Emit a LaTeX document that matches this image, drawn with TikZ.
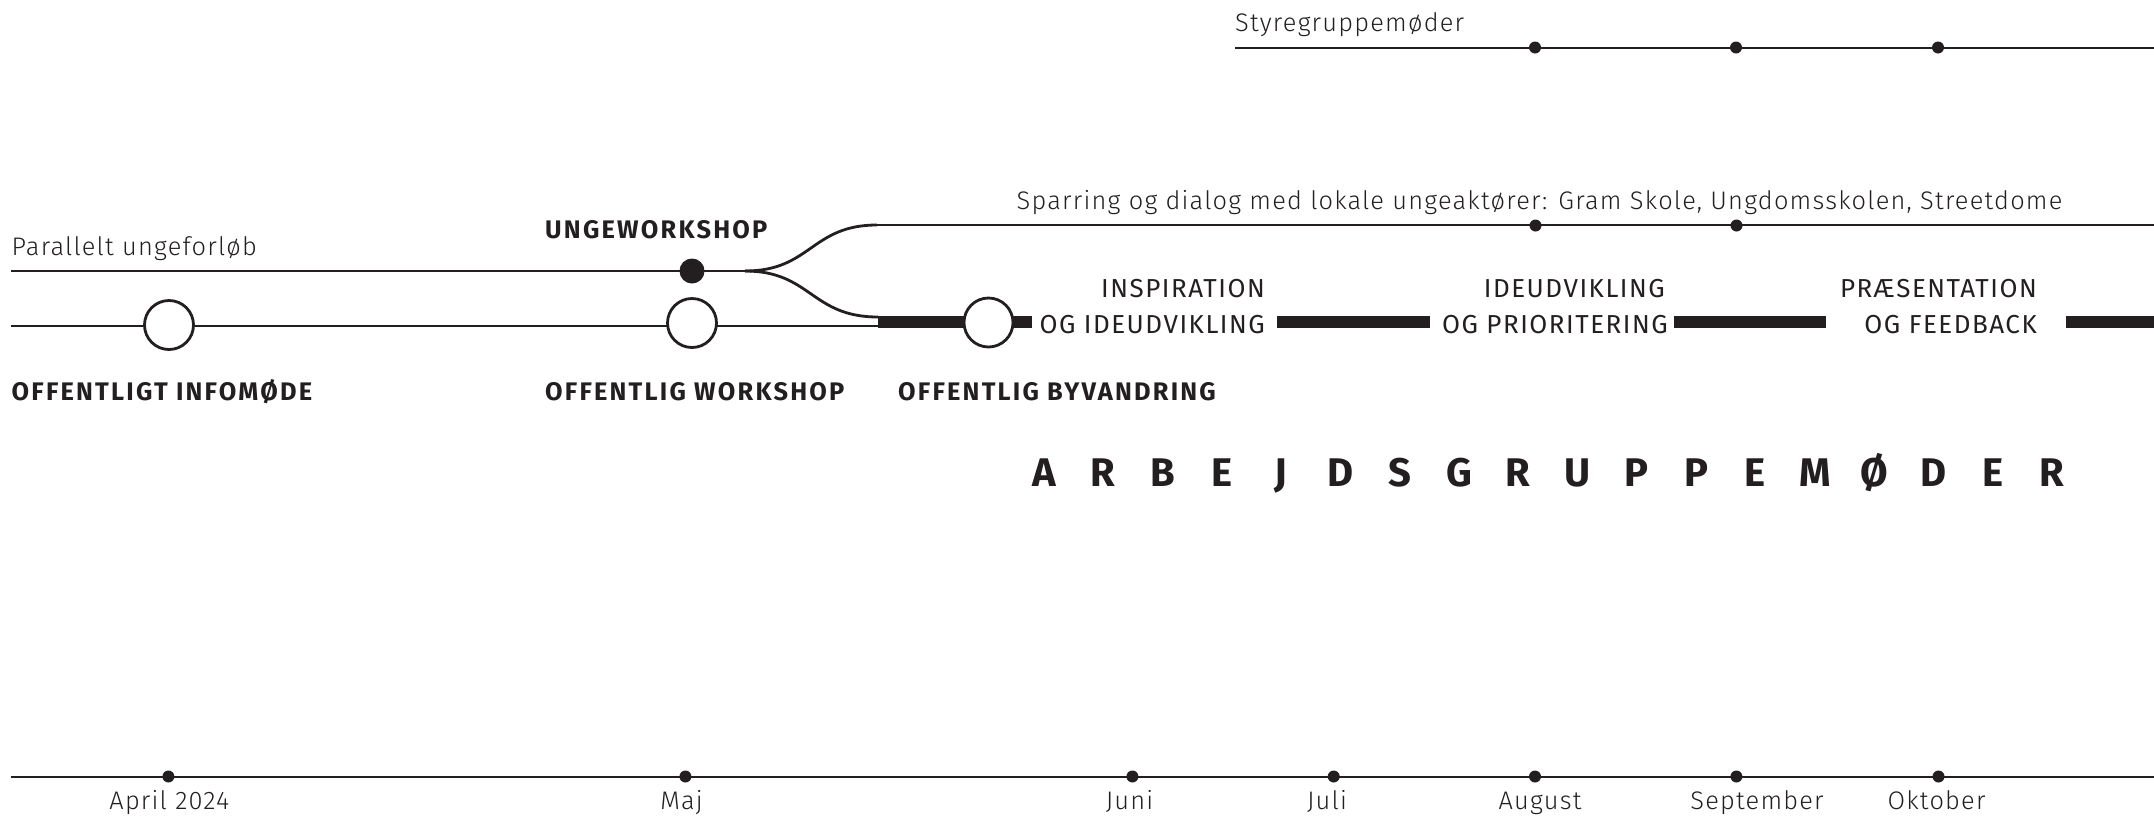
\documentclass[tikz,border=0pt]{standalone}
\usepackage{fontspec}
\IfFontExistsTF{Fira Sans Light}
 {\newfontfamily\fl{Fira Sans Light}[LetterSpace=4.8]}
 {\newfontfamily\fl{Liberation Sans}[LetterSpace=4.8]}
\IfFontExistsTF{Fira Sans Bold}
 {\newfontfamily\fb{Fira Sans Bold}[LetterSpace=8.7]}
 {\newfontfamily\fb{Liberation Sans Bold}[LetterSpace=8.7]}
\newfontfamily\fr{Fira Sans}[LetterSpace=5.8]
\definecolor{ink}{HTML}{231F20}
\begin{document}
\begin{tikzpicture}[x=1pt,y=-1pt,
  lnthin/.style={draw=ink,line width=2pt},
  lnmid/.style={draw=ink,line width=2.8pt},
  barline/.style={draw=ink,line width=12pt},
  sdot/.style={circle,fill=ink,inner sep=0pt,minimum size=12pt},
  bdot/.style={circle,fill=ink,inner sep=0pt,minimum size=25pt},
  ring/.style={circle,draw=ink,fill=white,line width=2.8pt,inner sep=0pt,minimum size=49pt},
  ltxt/.style={inner sep=0pt,text=ink,font=\fl\fontsize{25.4}{30}\selectfont},
  rtxt/.style={inner sep=0pt,text=ink,font=\fr\fontsize{26}{30}\selectfont,anchor=base east},
  btxt/.style={inner sep=0pt,text=ink,font=\fb\fontsize{25.4}{30}\selectfont,anchor=base west},
  bigletter/.style={inner sep=0pt,text=ink,font=\fb\fontsize{40}{48}\selectfont,anchor=base},
]
\useasboundingbox (0,0) rectangle (2154,815);

% Styregruppemoeder
\node[ltxt,anchor=base west] (styr) at (1235,31) {Styregruppemøder};
\coordinate (st0) at (1235,47.5);
\coordinate (st1) at (2154,47.5);
\draw[lnthin] (st0) -- (st1);
\foreach \x/\n in {1535/1,1736/2,1938/3} \node[sdot] (sg\n) at (\x,47.5) {};

% Sparring
\node[ltxt,anchor=base west] (spar) at (1016.5,209.5) {Sparring og dialog med lokale ungeaktører: Gram Skole, Ungdomsskolen, Streetdome};
\coordinate (sp0) at (877,225);
\coordinate (sp1) at (2154,225);
\draw[lnmid] (sp0) -- (sp1);
\foreach \x/\n in {1535.5/1,1736.5/2} \node[sdot] (sd\n) at (\x,225.5) {};

% Parallelt ungeforloeb
\node[ltxt,anchor=base west] (par) at (11.5,255) {Parallelt ungeforløb};
\coordinate (pa0) at (11,271);
\coordinate (split) at (745,271);
\coordinate (lo1) at (878,317);
\draw[lnmid] (pa0) -- (split);
\draw[lnmid] (split) .. controls (811,271) and (811,225) .. (sp0);
\draw[lnmid] (split) .. controls (811,271) and (811,317) .. (lo1);
\node[bdot] (ungdot) at (692,271) {};
\node[btxt] (ungew) at (545,238) {UNGEWORKSHOP};

% lower line and bars
\coordinate (lw0) at (11,326);
\coordinate (lw1) at (878,326);
\draw[lnmid] (lw0) -- (lw1);
\coordinate (ba0) at (878,322);  \coordinate (ba1) at (1032,322);
\coordinate (bb0) at (1277,322); \coordinate (bb1) at (1430,322);
\coordinate (bc0) at (1674,322); \coordinate (bc1) at (1826,322);
\coordinate (bd0) at (2066,322); \coordinate (bd1) at (2154,322);
\draw[barline] (ba0) -- (ba1);
\draw[barline] (bb0) -- (bb1);
\draw[barline] (bc0) -- (bc1);
\draw[barline] (bd0) -- (bd1);
\node[ring] (c1) at (169,325) {};
\node[ring] (c2) at (692,323) {};
\node[ring] (c3) at (988.5,322.5) {};

% phase texts
\node[rtxt] (ph1a) at (1265,297) {INSPIRATION};
\node[rtxt] (ph1b) at (1265,333) {OG IDEUDVIKLING};
\node[rtxt] (ph2a) at (1665,297) {IDEUDVIKLING};
\node[rtxt] (ph2b) at (1668,333) {OG PRIORITERING};
\node[rtxt] (ph3a) at (2037,297) {PRÆSENTATION};
\node[rtxt] (ph3b) at (2037,333) {OG FEEDBACK};

% bold labels
\node[btxt] (info) at (11.5,400.5) {OFFENTLIGT INFOMØDE};
\node[btxt] (owork) at (545,400.5) {OFFENTLIG WORKSHOP};
\node[btxt] (byv) at (898,400.5) {OFFENTLIG BYVANDRING};

% Arbejdsgruppemoeder
\foreach \c [count=\i] in {A,R,B,E,J,D,S,G,R,U,P,P,E,M,Ø,D,E,R}
  \node[bigletter] (ag\i) at ({1043.8+(\i-1)*59.3},486) {\c};

% timeline
\coordinate (tl0) at (10.5,777);
\coordinate (tl1) at (2154,777);
\draw[lnthin] (tl0) -- (tl1);
\foreach \x/\n in {168.4/1,685.4/2,1132.4/3,1333.7/4,1535/5,1736.4/6,1938.5/7}
  \node[sdot] (m\n) at (\x,776.5) {};
\node[ltxt,anchor=base] (lapr) at (169.4,809) {April 2024};
\node[ltxt,anchor=base] (lmaj) at (681.5,809) {Maj};
\node[ltxt,anchor=base] (ljun) at (1129.5,809) {Juni};
\node[ltxt,anchor=base] (ljul) at (1327,809) {Juli};
\node[ltxt,anchor=base] (laug) at (1540,809) {August};
\node[ltxt,anchor=base] (lsep) at (1757,809) {September};
\node[ltxt,anchor=base] (lokt) at (1936.5,809) {Oktober};
\end{tikzpicture}
\end{document}
